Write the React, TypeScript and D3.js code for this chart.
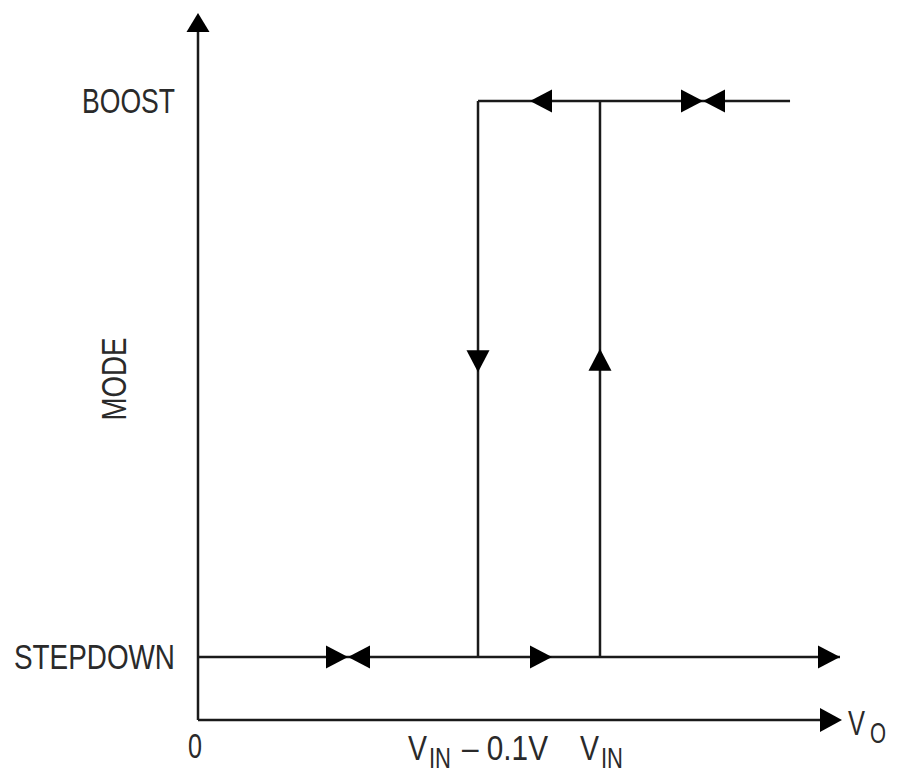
import React from 'react';
import * as d3 from 'd3';

// mode levels (y in axis units, 0 = x axis, 1 = top of y axis)
const STEPDOWN = 0.089;
const BOOST = 0.8755;
const modeLevels = [
  { label: 'STEPDOWN', level: STEPDOWN, width: 161 },
  { label: 'BOOST', level: BOOST, width: 93 },
];

// thresholds on the Vo axis (x in axis units, 0 = origin, 1 = arrow tip)
const VIN_MINUS = 0.4348;
const VIN = 0.6242;
const thresholds = [
  { value: VIN_MINUS, main: 'V', sub: 'IN', tail: '\u2013 0.1V' },
  { value: VIN, main: 'V', sub: 'IN', tail: '' },
];

const originLabel = '0';
const xAxisLabel = { main: 'V', sub: 'O' };
const yAxisLabel = 'MODE';

// hysteresis traces, as [x, level]
const traces: [number, number][][] = [
  [[0, STEPDOWN], [0.9969, STEPDOWN]],
  [[VIN_MINUS, BOOST], [0.9193, BOOST]],
  [[VIN_MINUS, BOOST], [VIN_MINUS, STEPDOWN]],
  [[VIN, STEPDOWN], [VIN, BOOST]],
];

// direction arrows: tip position and heading
const arrowHeads = [
  { x: 0.9969, y: STEPDOWN, dir: 'right' },
  { x: 0.5497, y: STEPDOWN, dir: 'right' },
  { x: 0.5155, y: BOOST, dir: 'left' },
  { x: VIN_MINUS, y: 0.492, dir: 'down' },
  { x: VIN, y: 0.525, dir: 'up' },
];

// stable points (two arrows meeting)
const bowties = [
  { x: 0.2329, y: STEPDOWN },
  { x: 0.7842, y: BOOST },
];

const DIRS: Record<string, [number, number]> = {
  right: [1, 0],
  left: [-1, 0],
  up: [0, -1],
  down: [0, 1],
};

const W = 900;
const H = 783;
const FONT = "'Liberation Sans Narrow', 'Liberation Sans', Arial, sans-serif";
const INK = '#1a1a1a';
const TEXT = '#2a2a2a';

function triangle(tx: number, ty: number, dir: string, len = 22, half = 11.5) {
  const [dx, dy] = DIRS[dir];
  const bx = tx - dx * len;
  const by = ty - dy * len;
  const px = -dy * half;
  const py = dx * half;
  const p = d3.path();
  p.moveTo(tx, ty);
  p.lineTo(bx + px, by + py);
  p.lineTo(bx - px, by - py);
  p.closePath();
  return p.toString();
}

// a piece of squeezed label text
function Label(props: {
  x: number;
  y: number;
  w: number;
  size?: number;
  anchor?: 'start' | 'middle' | 'end';
  transform?: string;
  children: React.ReactNode;
}) {
  const { x, y, w, size = 35, anchor = 'start', transform, children } = props;
  return (
    <text
      x={x}
      y={y}
      transform={transform}
      textAnchor={anchor}
      fontFamily={FONT}
      fontSize={size}
      fill={TEXT}
      textLength={w}
      lengthAdjust="spacingAndGlyphs"
    >
      {children}
    </text>
  );
}

export default function App() {
  const x = d3.scaleLinear().domain([0, 1]).range([198, 842]);
  const y = d3.scaleLinear().domain([0, 1]).range([720, 13]);

  const line = d3
    .line<[number, number]>()
    .x((d) => x(d[0]))
    .y((d) => y(d[1]));

  const midMode = (y(STEPDOWN) + y(BOOST)) / 2;
  const labelBase = y(0) + 40;

  return (
    <svg
      width={W}
      height={H}
      style={{ position: 'absolute', left: 0, top: 0, background: '#fff' }}
    >
      <rect width={W} height={H} fill="#fff" />

      {/* Axes */}
      <path d={line([[0, 0], [0.98, 0]])!} stroke={INK} strokeWidth={2.5} fill="none" />
      <path d={line([[0, 0], [0, 0.98]])!} stroke={INK} strokeWidth={2.5} fill="none" />
      <path d={triangle(x(1), y(0), 'right', 22, 12)} fill="#000" />
      <path d={triangle(x(0), y(1), 'up', 19, 11.5)} fill="#000" />

      {/* Traces */}
      {traces.map((t, i) => (
        <path key={i} d={line(t)!} stroke={INK} strokeWidth={2.5} fill="none" />
      ))}

      {arrowHeads.map((a, i) => (
        <path key={i} d={triangle(x(a.x), y(a.y), a.dir)} fill="#000" />
      ))}

      {bowties.map((b, i) => (
        <g key={i}>
          <path d={triangle(x(b.x), y(b.y), 'right', 22, 11.5)} fill="#000" />
          <path d={triangle(x(b.x), y(b.y), 'left', 22, 11.5)} fill="#000" />
        </g>
      ))}

      {/* Mode labels */}
      {modeLevels.map((m) => (
        <Label key={m.label} x={x(0) - 23} y={y(m.level) + 12} w={m.width} anchor="end">
          {m.label}
        </Label>
      ))}

      <Label x={0} y={0} w={83} anchor="middle" transform={`translate(126,${midMode}) rotate(-90)`}>
        {yAxisLabel}
      </Label>

      {/* Origin */}
      <Label x={x(0) - 3} y={labelBase - 2} w={14} anchor="middle">
        {originLabel}
      </Label>

      {/* Threshold labels: V, subscript IN, then the tail */}
      {thresholds.map((t, i) => {
        const cx = x(t.value);
        const start = t.tail ? cx - 70 : cx - 20;
        return (
          <g key={i}>
            <Label x={start} y={labelBase} w={19}>
              {t.main}
            </Label>
            <Label x={start + 21} y={labelBase + 8} w={22} size={30}>
              {t.sub}
            </Label>
            {t.tail && (
              <Label x={start + 54} y={labelBase} w={86}>
                {t.tail}
              </Label>
            )}
          </g>
        );
      })}

      {/* Vo label */}
      <Label x={x(1) + 6} y={y(0) + 15} w={17}>
        {xAxisLabel.main}
      </Label>
      <Label x={x(1) + 28} y={y(0) + 23} w={16} size={30}>
        {xAxisLabel.sub}
      </Label>
    </svg>
  );
}
